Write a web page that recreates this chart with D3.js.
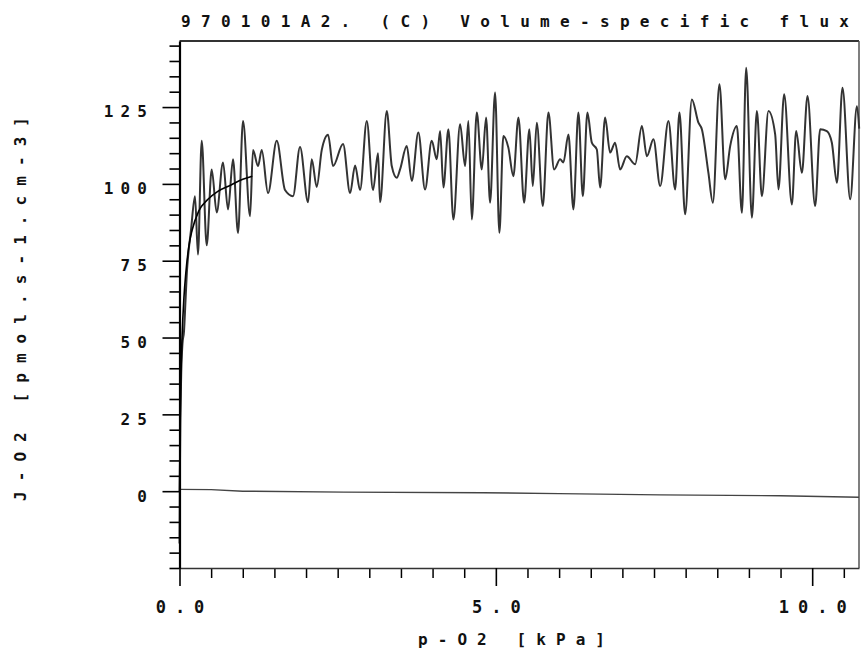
<!DOCTYPE html>
<html>
<head>
<meta charset="utf-8">
<script src="https://cdn.jsdelivr.net/npm/d3@7"></script>
<style>
    body { margin: 0; background: #fff; }
    svg text { font-family: "DejaVu Sans Mono", "Liberation Mono", monospace; font-weight: bold; fill: #111; }
</style>
</head>
<body>
<div id="chart"></div>
<script>
const SVG_WIDTH = 861;
const SVG_HEIGHT = 652;
const PLOT = { left: 179.5, right: 859, top: 41, bottom: 568 };

const TITLE = "970101A2. (C) Volume-specific flux";
const X_LABEL = "p-O2 [kPa]";
const Y_LABEL = "J-O2 [pmol.s-1.cm-3]";

const X_DOMAIN = [0, 10.74];
const Y_DOMAIN = [-25, 146.5];
const X_MAJOR = [0, 5, 10];
const Y_MAJOR = [0, 25, 50, 75, 100, 125];

// measured flux trace
const tracePO2 = [
    0.000, 0.008, 0.024, 0.047, 0.071, 0.095, 0.119, 0.134, 0.182, 0.245,
    0.292, 0.351, 0.430, 0.509, 0.588, 0.688, 0.767, 0.846, 0.925, 1.004,
    1.115, 1.162, 1.241, 1.300, 1.399, 1.537, 1.668, 1.794, 1.905, 2.032,
    2.090, 2.169, 2.248, 2.348, 2.427, 2.585, 2.696, 2.775, 2.854, 2.960,
    3.059, 3.138, 3.170, 3.276, 3.355, 3.434, 3.486, 3.592, 3.671, 3.775,
    3.881, 3.987, 4.066, 4.119, 4.171, 4.250, 4.329, 4.435, 4.514, 4.566,
    4.620, 4.699, 4.778, 4.846, 4.909, 4.988, 5.056, 5.119, 5.198, 5.277,
    5.357, 5.447, 5.530, 5.584, 5.647, 5.742, 5.831, 5.921, 6.016, 6.068,
    6.147, 6.226, 6.305, 6.375, 6.447, 6.517, 6.596, 6.648, 6.727, 6.806,
    6.885, 6.964, 7.070, 7.202, 7.308, 7.387, 7.491, 7.597, 7.728, 7.834,
    7.902, 7.992, 8.098, 8.202, 8.256, 8.360, 8.430, 8.534, 8.625, 8.704,
    8.810, 8.889, 8.957, 9.047, 9.126, 9.205, 9.309, 9.415, 9.467, 9.557,
    9.679, 9.747, 9.837, 9.926, 10.047, 10.126, 10.232, 10.311, 10.391, 10.479,
    10.601, 10.707, 10.743
];
const traceJO2 = [
    -17, 10, 35, 48, 52, 62, 72, 76, 85, 96,
    77, 114, 80, 104.7, 90.7, 107, 91.7, 108, 84, 120.5,
    89.5, 111, 105.8, 111, 97, 114, 98, 96, 112, 94,
    108, 99, 111, 116, 105.8, 113, 97, 106, 98, 120.5,
    98, 110, 94, 123.7, 105.8, 102, 104.7, 112.3, 101, 116.7,
    98.2, 114, 108, 117.2, 98.8, 117.8, 88.4, 119.4, 105.8, 120.5,
    88.4, 123.2, 104.7, 121.6, 93.9, 129.7, 84.1, 115.6, 111.8, 102.5,
    121.6, 93.9, 117.8, 99.3, 119.9, 92.8, 123.2, 104.7, 108, 107,
    116.1, 91.7, 123.2, 96, 123.2, 113.4, 111.2, 98.8, 121.6, 110.2,
    113.4, 104.7, 109, 106.4, 118.8, 109, 114.5, 99.3, 120.5, 98.2,
    123.2, 90.1, 127.5, 119.9, 117.8, 103.6, 93.9, 132.4, 101.5, 112.3,
    118.8, 90.6, 137.8, 89, 123.7, 96, 123.7, 116.1, 98.2, 129.2,
    93.3, 117.2, 103.6, 128.6, 92.8, 117.8, 117.2, 113.4, 100.4, 131.3,
    95, 125.3, 118
];

// hyperbolic fit
const fitPO2 = [0, 0.01, 0.02, 0.04, 0.07, 0.1, 0.15, 0.2, 0.3, 0.45, 0.6, 0.8, 1.0, 1.15];
const fitJO2 = [0, 22, 35, 50, 63, 71, 80, 85, 91, 95, 97.5, 99.5, 101.5, 102.5];

// background (instrumental) flux near zero
const basePO2 = [0, 0.5, 1.0, 2.6, 4.8, 6.0, 7.6, 9.5, 10.74];
const baseJO2 = [0.6, 0.5, 0, -0.3, -0.5, -0.8, -1.2, -1.5, -2];

const zip = (xs, ys) => xs.map((x, i) => ({ x, y: ys[i] }));

const getScales = () => {
    const x = d3.scaleLinear().domain(X_DOMAIN).range([PLOT.left, PLOT.right]);
    const y = d3.scaleLinear().domain(Y_DOMAIN).range([PLOT.bottom, PLOT.top]);
    return { x, y };
};

const appendFrame = (svg) => {
    svg.append("line")
        .attr("x1", PLOT.left).attr("x2", PLOT.right)
        .attr("y1", PLOT.top).attr("y2", PLOT.top)
        .attr("stroke", "#333").attr("stroke-width", 1.8);
    svg.append("line")
        .attr("x1", PLOT.right).attr("x2", PLOT.right)
        .attr("y1", PLOT.top).attr("y2", PLOT.bottom)
        .attr("stroke", "#555").attr("stroke-width", 1.5);
};

const appendAxes = (svg, scales) => {
    const xMinor = d3.range(0, 10.75, 0.5).filter(v => !X_MAJOR.includes(v));
    const yMinor = d3.range(-25, 146, 5).filter(v => !Y_MAJOR.includes(v));

    // x minor ticks
    svg.append("g")
        .attr("transform", `translate(0,${PLOT.bottom})`)
        .call(d3.axisBottom(scales.x).tickValues(xMinor).tickSize(10).tickFormat(""))
        .call(g => g.select(".domain").remove())
        .selectAll(".tick line").attr("stroke-width", 1.5);

    const xAxis = svg.append("g")
        .attr("transform", `translate(0,${PLOT.bottom})`)
        .call(d3.axisBottom(scales.x).tickValues(X_MAJOR).tickSize(18).tickSizeOuter(0)
            .tickFormat(d3.format(".1f")));
    xAxis.select(".domain").attr("stroke", "#333").attr("stroke-width", 1.6);
    xAxis.selectAll(".tick line").attr("stroke-width", 1.6);
    xAxis.selectAll("text")
        .attr("y", 33)
        .attr("x", 4.5)
        .style("font-size", "17px")
        .style("letter-spacing", "9px");

    svg.append("g")
        .attr("transform", `translate(${PLOT.left},0)`)
        .call(d3.axisLeft(scales.y).tickValues(yMinor).tickSize(10).tickFormat(""))
        .call(g => g.select(".domain").remove())
        .selectAll(".tick line").attr("stroke-width", 1.6);

    const yAxis = svg.append("g")
        .attr("transform", `translate(${PLOT.left},0)`)
        .call(d3.axisLeft(scales.y).tickValues(Y_MAJOR).tickSize(17).tickSizeOuter(0));
    yAxis.select(".domain").attr("stroke", "#000").attr("stroke-width", 2.2);
    yAxis.selectAll(".tick line").attr("stroke-width", 1.6);
    yAxis.selectAll("text")
        .attr("x", -25.5)
        .attr("dy", "0.62em")
        .style("font-size", "16px")
        .style("letter-spacing", "7.1px");
};

const appendTexts = (svg) => {
    svg.append("text")
        .attr("x", 181).attr("y", 27)
        .attr("textLength", 668).attr("lengthAdjust", "spacing")
        .style("font-size", "16px")
        .text(TITLE);

    svg.append("text")
        .attr("x", 418).attr("y", 645)
        .attr("textLength", 187).attr("lengthAdjust", "spacing")
        .style("font-size", "16px")
        .text(X_LABEL);

    svg.append("text")
        .attr("transform", "translate(26,501) rotate(-90)")
        .attr("textLength", 384).attr("lengthAdjust", "spacing")
        .style("font-size", "16px")
        .text(Y_LABEL);
};

const appendData = (svg, scales) => {
    const line = d3.line().x(d => scales.x(d.x)).y(d => scales.y(d.y));

    svg.append("path")
        .datum(zip(basePO2, baseJO2))
        .attr("fill", "none")
        .attr("stroke", "#444")
        .attr("stroke-width", 1.4)
        .attr("d", line);

    svg.append("path")
        .datum(zip(tracePO2, traceJO2))
        .attr("fill", "none")
        .attr("stroke", "#333")
        .attr("stroke-width", 2)
        .attr("stroke-linejoin", "round")
        .attr("d", line.curve(d3.curveMonotoneX));

    svg.append("path")
        .datum(zip(fitPO2, fitJO2))
        .attr("fill", "none")
        .attr("stroke", "#000")
        .attr("stroke-width", 1.6)
        .attr("d", line.curve(d3.curveMonotoneX));
};

const drawFluxChart = (containerId) => {
    const container = d3.select("#" + containerId);
    container.html("");

    const svg = container.append("svg")
        .attr("width", SVG_WIDTH)
        .attr("height", SVG_HEIGHT);

    const scales = getScales();

    appendFrame(svg);
    appendData(svg, scales);
    appendAxes(svg, scales);
    appendTexts(svg);
};

drawFluxChart("chart");
</script>
</body>
</html>
